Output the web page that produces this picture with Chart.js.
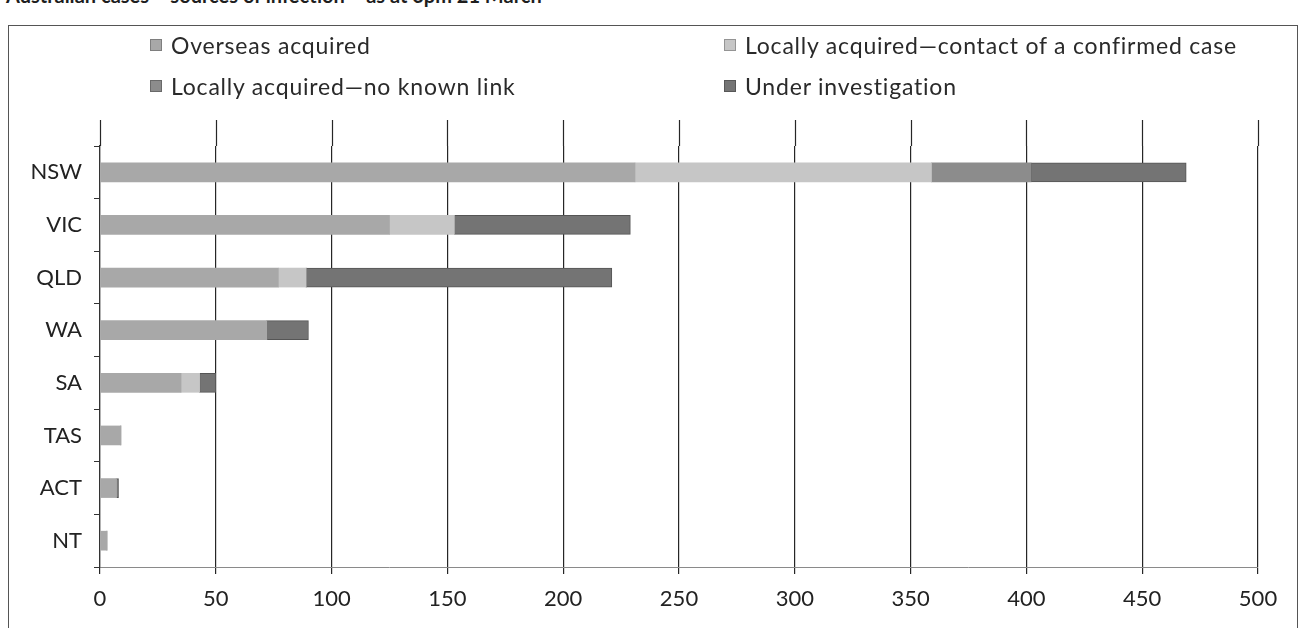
<!DOCTYPE html>
<html>
<head>
<meta charset="utf-8">
<script src="https://cdn.jsdelivr.net/npm/chart.js@4"></script>
<style>
  html, body { margin: 0; padding: 0; background: #fff; width: 1300px; height: 628px; overflow: hidden; }
  #title { position: absolute; left: 6px; top: -17px; font: bold 20px Lato, "Open Sans", sans-serif; color: #1e1e1e; white-space: nowrap; }
  #frame { position: absolute; left: 8px; top: 25px; width: 1290px; height: 640px; border: 1.5px solid #555; box-sizing: border-box; }
  #wrap { position: absolute; left: 0; top: 0; width: 1300px; height: 628px; }
  #legend { position: absolute; left: 0; top: 0; width: 1300px; height: 110px; font: 23px Lato, "Open Sans", sans-serif; letter-spacing: 0.8px; color: #2a2a2a; }
  .item { position: absolute; display: flex; align-items: center; white-space: nowrap; }
  .box { width: 12px; height: 12px; margin-right: 9px; border: 1px solid rgba(0,0,0,0.25); box-sizing: border-box; }
</style>
</head>
<body>
<div id="title">Australian cases – sources of infection – as at 6pm 21 March</div>
<div id="frame"></div>
<div id="wrap"><canvas id="chart" width="1300" height="628"></canvas></div>
<div id="legend"></div>
<script>
// States and territories
const categories = ['NSW', 'VIC', 'QLD', 'WA', 'SA', 'TAS', 'ACT', 'NT'];

// Cases by source of infection
const overseasAcquired = [231, 125, 77, 72, 35, 9, 7, 3];
const contactOfConfirmed = [128, 28, 12, 0, 8, 0, 0, 0];
const noKnownLink = [43, 0, 0, 0, 0, 0, 0, 0];
const underInvestigation = [67, 76, 132, 18, 7, 0, 1, 0];

// Axis ticks
const xTicks = [0, 50, 100, 150, 200, 250, 300, 350, 400, 450, 500];

const seriesNames = [
  'Overseas acquired',
  'Locally acquired—contact of a confirmed case',
  'Locally acquired—no known link',
  'Under investigation'
];
const seriesColors = ['#a8a8a8', '#c6c6c6', '#8c8c8c', '#747474'];
const seriesBorders = ['#9c9c9c', '#bcbcbc', '#7e7e7e', '#555555'];
const seriesValues = [overseasAcquired, contactOfConfirmed, noKnownLink, underInvestigation];

const FONT = 'Lato, "Open Sans", sans-serif';

// Legend laid out as a two-column grid
const legendPos = [[150, 45], [724, 45], [150, 86], [724, 86]];
const legendEl = document.getElementById('legend');
seriesNames.forEach((name, i) => {
  const it = document.createElement('div');
  it.className = 'item';
  it.style.left = legendPos[i][0] + 'px';
  it.style.top = (legendPos[i][1] - 14) + 'px';
  it.style.height = '28px';
  const b = document.createElement('span');
  b.className = 'box';
  b.style.background = seriesColors[i];
  const t = document.createElement('span');
  t.textContent = name;
  it.appendChild(b);
  it.appendChild(t);
  legendEl.appendChild(it);
});

// Extends the value gridlines above the plot
const gridExtension = {
  id: 'gridExtension',
  beforeDatasetsDraw(chart) {
    const { ctx, chartArea, scales } = chart;
    const x = scales.x;
    const top = chartArea.top - 26;
    ctx.save();
    ctx.strokeStyle = '#262626';
    ctx.lineWidth = 1.2;
    x.ticks.forEach((t, i) => {
      const px = Math.round(x.getPixelForTick(i)) + 0.5;
      ctx.beginPath();
      ctx.moveTo(px, top);
      ctx.lineTo(px, chartArea.top);
      ctx.stroke();
    });
    ctx.restore();
  }
};

new Chart(document.getElementById('chart'), {
  type: 'bar',
  data: {
    labels: categories,
    datasets: seriesNames.map((name, i) => ({
      label: name,
      data: seriesValues[i],
      backgroundColor: seriesColors[i],
      borderColor: seriesBorders[i],
      borderWidth: i === 3 ? 1 : 0,
      borderSkipped: false,
      barThickness: 19
    }))
  },
  options: {
    indexAxis: 'y',
    responsive: false,
    animation: false,
    events: [],
    layout: { padding: { top: 146, right: 42, left: 0, bottom: 0 } },
    plugins: { legend: { display: false }, tooltip: { enabled: false } },
    scales: {
      x: {
        stacked: true,
        min: 0,
        max: 500,
        afterBuildTicks(scale) { scale.ticks = xTicks.map(v => ({ value: v })); },
        afterFit(scale) { scale.height = 61; },
        grid: { color: '#262626', lineWidth: 1.2, drawTicks: true, tickLength: 7, tickColor: '#262626' },
        border: { display: true, color: '#8a8a8a', width: 1 },
        ticks: { color: '#222', font: { family: FONT, size: 22 }, padding: 12 }
      },
      y: {
        stacked: true,
        afterFit(scale) { scale.width = 100; },
        grid: { drawOnChartArea: false, drawTicks: true, tickLength: 6, tickColor: '#333', offset: true },
        border: { display: true, color: '#333', width: 1.2 },
        ticks: { color: '#222', font: { family: FONT, size: 22 }, padding: 12 }
      }
    }
  },
  plugins: [gridExtension]
});
</script>
</body>
</html>
